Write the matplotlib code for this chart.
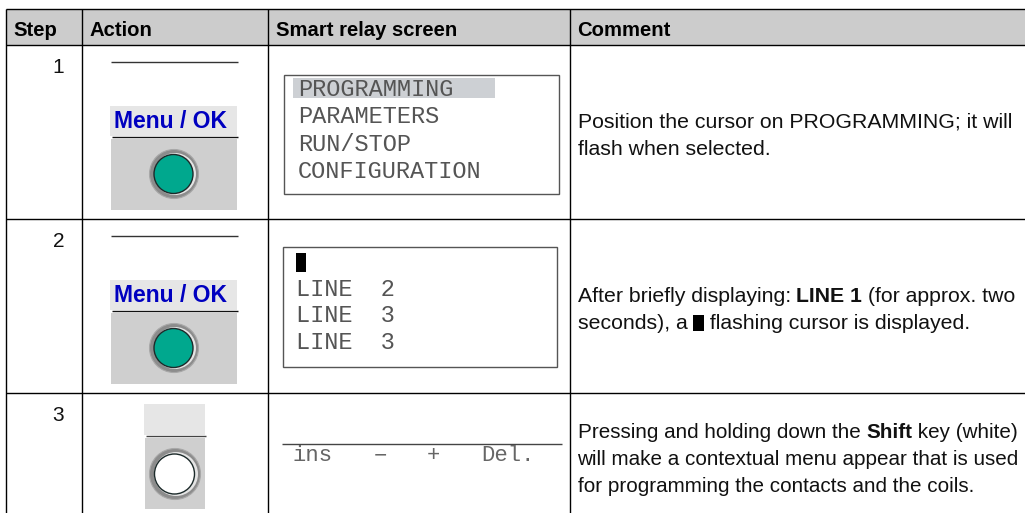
import matplotlib
matplotlib.use("Agg")
import matplotlib.pyplot as plt
from matplotlib.patches import Rectangle, Circle

# =============================
# Table content
# =============================
headers = ["Step", "Action", "Smart relay screen", "Comment"]
steps = ["1", "2", "3"]
menu_label = "Menu / OK"
screen1 = ["PROGRAMMING", "PARAMETERS", "RUN/STOP", "CONFIGURATION"]
screen2 = ["LINE  2", "LINE  3", "LINE  3"]
screen3 = ["ins", "\u2212", "+", "Del."]
comment1 = ["Position the cursor on PROGRAMMING; it will", "flash when selected."]
comment2 = [
    [("After briefly displaying: ", False), ("LINE 1", True), (" (for approx. two", False)],
    [("seconds), a ", False), ("CURSOR", False), (" flashing cursor is displayed.", False)],
]
comment3 = [
    [("Pressing and holding down the ", False), ("Shift", True), (" key (white)", False)],
    [("will make a contextual menu appear that is used", False)],
    [("for programming the contacts and the coils.", False)],
]

col_x = [5.5, 81.5, 267.5, 569.5]
table_right = 1025
row_y = [9, 45, 219, 393, 513]
FONT = "Liberation Sans"
MONO = "Liberation Mono"
SIZE = 15
HEAD_SIZE = 14.6
MONO_SIZE = 17

fig = plt.figure(figsize=(10.25, 5.13), dpi=100)
ax = fig.add_axes([0, 0, 1, 1])
ax.set_xlim(0, 1025)
ax.set_ylim(513, 0)
ax.axis("off")


def rect(x, y, w, h, color, **kw):
    ax.add_patch(Rectangle((x, y), w, h, facecolor=color, edgecolor="none", **kw))


def line(x0, x1, y, color="#111111", lw=0.8):
    ax.plot([x0, x1], [y, y], color=color, lw=lw, solid_capstyle="butt")


def draw_runs(x, y, runs, size=SIZE):
    # bold and regular runs on one line, placed one after the other
    r = fig.canvas.get_renderer()
    for s, bold in runs:
        if s == "CURSOR":
            rect(x, y - 14, 11, 16, "black")
            x += 11
            continue
        weight = "bold" if bold else "normal"
        ax.text(x, y, s, fontsize=size, family=FONT, color="#111111",
                fontweight=weight, va="baseline", ha="left")
        # a trailing space is not counted in the extent, so measure with nbsp
        probe = ax.text(0, 0, s.replace(" ", "\u00a0"), fontsize=size, family=FONT,
                        fontweight=weight)
        x += probe.get_window_extent(r).width
        probe.remove()


def button(x, y, w, h, cx, cy, fill, r_out=24.5, r_in=19.5):
    rect(x, y, w, h, "#cfcfcf")
    ax.add_patch(Circle((cx, cy), r_out, facecolor="#8c8c8c", edgecolor="#a8a8a8", lw=0.8))
    ax.add_patch(Circle((cx + 1, cy), r_out - 3.5, facecolor="#e4e4e4", edgecolor="none"))
    ax.add_patch(Circle((cx - 0.5, cy), r_in, facecolor=fill, edgecolor="#1c2a2a", lw=1.0))


def action(top):
    line(111, 238, top + 17, "#333333", 1.0)
    rect(110, top + 61, 127, 30, "#e6e6e6")
    ax.text(114, top + 83, menu_label, fontsize=16.5, family=FONT, color="#0000c0",
            fontweight="bold", ha="left", va="baseline")
    line(112, 238, top + 91.5, "#111111", 1.0)
    button(111, top + 94, 126, 71, 174, top + 129, "#00a88e")


# =============================
# Header and grid
# =============================
rect(col_x[0], row_y[0], table_right - col_x[0], row_y[1] - row_y[0], "#cccccc")
for i, h in enumerate(headers):
    ax.text(col_x[i] + 8, 36, h, fontsize=HEAD_SIZE, family=FONT, color="black",
            fontweight="bold", va="baseline", ha="left")
for x in col_x:
    ax.plot([x, x], [row_y[0], row_y[-1]], color="black", lw=1.0, solid_capstyle="butt")
for y in row_y[:-1]:
    line(col_x[0], table_right, y, "black", 1.0)
for s, y in zip(steps, [73, 247, 421]):
    ax.text(64, y, s, fontsize=SIZE, family=FONT, color="#111111", va="baseline", ha="right")

# =============================
# Action column
# =============================
action(45)
action(219)
rect(144, 404, 61, 31, "#e6e6e6")
line(146, 206, 435.5, "#444444", 1.0)
button(145, 438, 60, 71, 175, 474, "white", r_out=25.5, r_in=20)

# =============================
# Screens
# =============================
ax.add_patch(Rectangle((284, 75), 275, 119, facecolor="white", edgecolor="#555555", lw=1.0))
rect(293, 78, 202, 20, "#cdd0d4")
for s, y in zip(screen1, [96, 123, 151, 178]):
    ax.text(298, y, s, fontsize=MONO_SIZE, family=MONO, color="#555555", va="baseline", ha="left")

ax.add_patch(Rectangle((282.5, 247), 274.5, 120, facecolor="white", edgecolor="#555555", lw=1.0))
rect(296, 253, 10, 19, "black")
for s, y in zip(screen2, [296, 322, 349]):
    ax.text(296, y, s, fontsize=MONO_SIZE, family=MONO, color="#555555", va="baseline", ha="left")

line(282, 562, 444, "#444444", 1.0)
for s, x in zip(screen3, [292, 374, 427, 481]):
    ax.text(x, 461, s, fontsize=MONO_SIZE - 1, family=MONO, color="#666666", va="baseline", ha="left")

# =============================
# Comments
# =============================
for s, y in zip(comment1, [128, 155]):
    draw_runs(577.5, y, [(s, False)], 15.3)
for runs, y in zip(comment2, [302, 329]):
    draw_runs(577.5, y, runs, 15.3)
for runs, y in zip(comment3, [438, 465, 492]):
    draw_runs(577.5, y, runs, 14.9)

fig.savefig("out.png", dpi=100, facecolor="white")
